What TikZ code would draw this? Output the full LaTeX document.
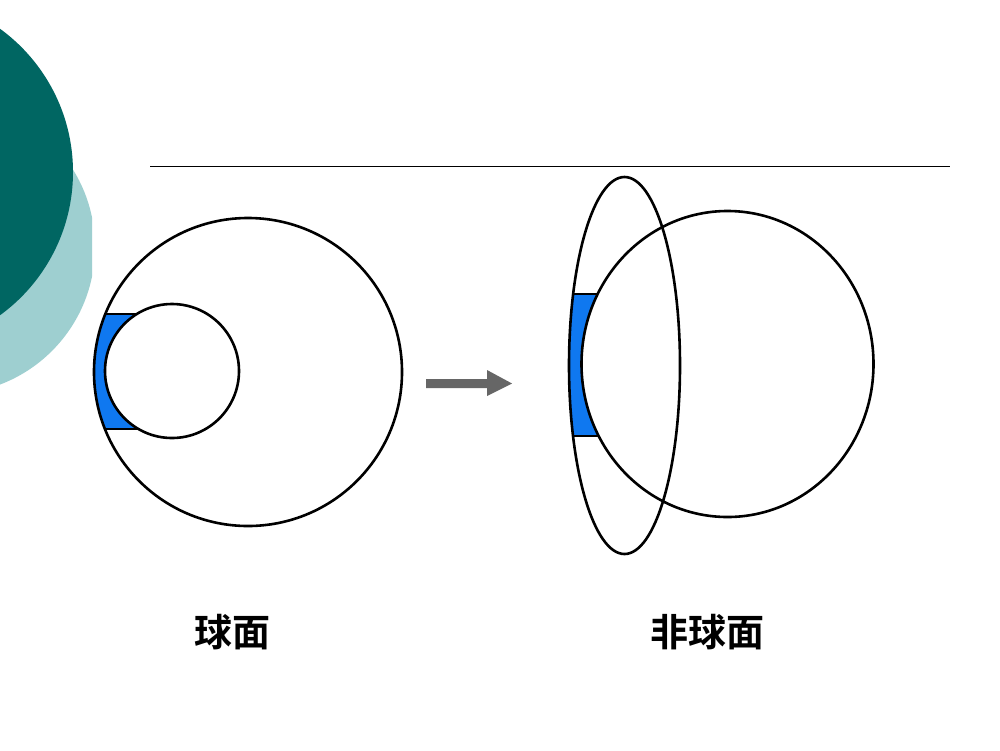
\documentclass[tikz,border=0pt]{standalone}
\usepackage{fontspec}
\newfontfamily\cjk{Noto Sans CJK SC}[BoldFont={Noto Sans CJK SC Bold}]
\tikzset{
  x=1pt,y=-1pt,
  outline/.style={draw=black,line width=2.6pt},
  lens/.style={fill=lensblue,even odd rule},
  caption/.style={font=\cjk\bfseries\fontsize{38}{38}\selectfont,text=black,inner sep=0pt},
}
\definecolor{darkteal}{HTML}{006662}
\definecolor{lightteal}{HTML}{9ECFD0}
\definecolor{lensblue}{HTML}{0F78F0}
\definecolor{arrowgray}{HTML}{666666}
\begin{document}
\begin{tikzpicture}
\useasboundingbox (0,0) rectangle (1000,750);
\fill[white] (0,0) rectangle (1000,750);
% background decoration
\begin{scope}
  \clip (0,0) rectangle (92,750);
  \fill[lightteal] (-52,247) circle[radius=147];
\end{scope}
\begin{scope}
  \clip (0,0) rectangle (92,750);
  \fill[darkteal] (-104,172) circle[radius=177];
\end{scope}
% title rule
\coordinate (ruleL) at (150,166.5);
\coordinate (ruleR) at (950,166.5);
\draw[line width=1.6pt] (ruleL) -- (ruleR);
% left figure
\coordinate (bigC) at (248,372);
\coordinate (smallC) at (172,371);
\begin{scope}
  \clip (90,314) rectangle (142,429);
  \path[lens] (bigC) circle[radius=154] (smallC) circle[radius=67];
\end{scope}
\coordinate (ltA) at (105.3,314);
\coordinate (ltB) at (137,314);
\coordinate (lbA) at (105.3,429);
\coordinate (lbB) at (138.5,429);
\draw[outline] (ltA) -- (ltB) (lbA) -- (lbB);
\draw[outline] (bigC) circle[radius=154];
\draw[outline] (smallC) circle[radius=67];
% arrow
\fill[arrowgray] (426,379) -- (487,379) -- (487,370) -- (512,383.5) -- (487,396) -- (487,388) -- (426,388) -- cycle;
% right figure
\coordinate (eyeC) at (727.5,364);
\coordinate (ellC) at (624.5,365.5);
\begin{scope}
  \clip (560,294) rectangle (600,436);
  \path[lens] (eyeC) ellipse[x radius=146,y radius=153] (ellC) ellipse[x radius=55.5,y radius=188.5];
\end{scope}
\coordinate (rtA) at (573,294);
\coordinate (rtB) at (597.7,294);
\coordinate (rbA) at (573,436);
\coordinate (rbB) at (598,436);
\draw[outline] (rtA) -- (rtB) (rbA) -- (rbB);
\draw[outline] (eyeC) ellipse[x radius=146,y radius=153];
\draw[outline] (ellC) ellipse[x radius=55.5,y radius=188.5];
% captions
\node[caption] (capL) at (232.5,632) {球面};
\node[caption] (capR) at (707,632) {非球面};
\end{tikzpicture}
\end{document}
